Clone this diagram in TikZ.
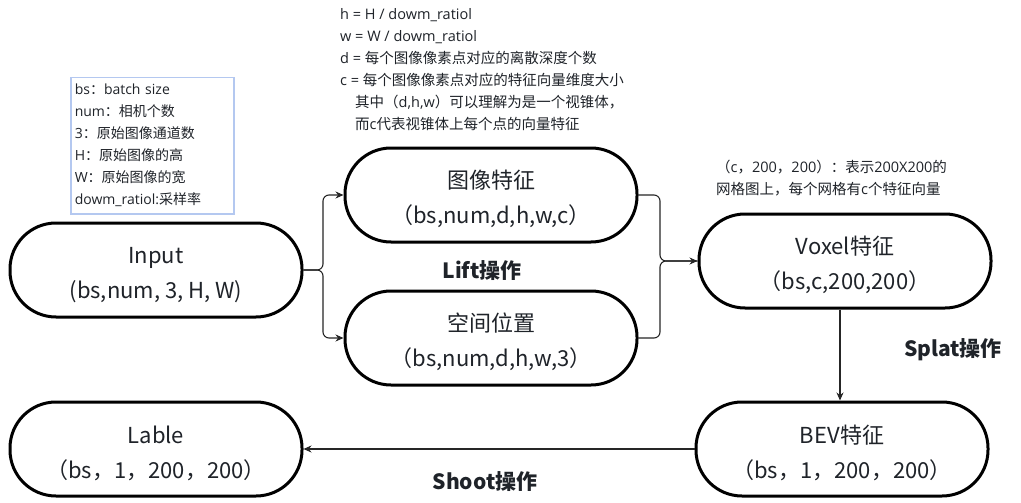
\documentclass[tikz,border=0pt]{standalone}
\usepackage{fontspec}
\setmainfont{Noto Sans CJK SC}
\newfontfamily\latf{Open Sans}
\newcommand{\lat}[1]{{\latf #1}}
\usetikzlibrary{arrows.meta}
\definecolor{txt}{HTML}{1F2329}
\definecolor{legendblue}{HTML}{B4C8F0}
\tikzset{
  stadium/.style={draw=black, line width=3pt, rounded corners=46pt, minimum width=292pt, minimum height=94pt, align=center, font=\fontsize{22}{35}\selectfont, text=txt, inner sep=0pt},
  conn/.style={draw=black!85, line width=1.1pt, -{Stealth[length=8pt,width=7pt]}},
  conn2/.style={draw=black!85, line width=1.1pt},
  note/.style={align=left, font=\fontsize{14.5}{22}\selectfont, text=txt, inner sep=0pt},
  oplabel/.style={font=\fontsize{21}{24}\selectfont\bfseries, text=txt, inner sep=0pt}
}
\newcommand{\tstrut}{\rule{0pt}{27pt}}
\begin{document}
\begin{tikzpicture}[x=1pt,y=-1pt]
\useasboundingbox (0,0) rectangle (1021,503);
\fill[white] (0,0) rectangle (1021,503);

\node[stadium] (input) at (156,270) {\tstrut Input\\(bs,num, 3, H, W)};
\node[stadium] (img) at (491,195) {\tstrut 图像特征\\（bs,num,d,h,w,c）};
\node[stadium] (sp) at (491,338) {\tstrut 空间位置\\（bs,num,d,h,w,3）};
\node[stadium] (vox) at (845,261) {\tstrut Voxel特征\\（bs,c,200,200）};
\node[stadium] (bev) at (842,449) {\tstrut BEV特征\\（bs，1，200，200）};
\node[stadium] (lab) at (156,449) {\tstrut Lable\\（bs，1，200，200）};

\node[draw=legendblue, line width=1.5pt, note, anchor=north west, text width=155pt, minimum height=136pt, inner sep=4pt, font=\fontsize{14}{22}\selectfont] (legend) at (70,77)
{\lat{bs}：\lat{batch size}\\\lat{num}：相机个数\\\lat{3}：原始图像通道数\\\lat{H}：原始图像的高\\\lat{W}：原始图像的宽\\\lat{dowm\_ratiol:}采样率};

\node[note, anchor=north west] (topnote) at (340,8)
{\lat{h = H / dowm\_ratiol}\\\lat{w = W / dowm\_ratiol}\\\lat{d = }每个图像像素点对应的离散深度个数\\\lat{c = }每个图像像素点对应的特征向量维度大小\\\hspace*{15pt}其中（\lat{d,h,w}）可以理解为是一个视锥体，\\\hspace*{15pt}而\lat{c}代表视锥体上每个点的向量特征};

\node[note, anchor=north west] (voxnote) at (716,160)
{（\lat{c}，\lat{200}，\lat{200}）：表示\lat{200X200}的\\网格图上，每个网格有\lat{c}个特征向量};

\node[oplabel] (lift) at (482,271) {Lift操作};
\node[oplabel] (splat) at (953,350) {Splat操作};
\node[oplabel] (shoot) at (485,482) {Shoot操作};

\coordinate (jl) at (323,270);
\coordinate (jr) at (660,261);

\draw[conn, rounded corners=6pt] (input.east) -- (jl) |- (img.west);
\draw[conn, rounded corners=6pt] (input.east) -- (jl) |- (sp.west);
\draw[conn, rounded corners=6pt] (img.east) -| (jr) -- (vox.west);
\draw[conn2, rounded corners=6pt] (sp.east) -| (jr) -- (vox.west);
\draw[conn] (vox.south -| 840,0) -- (bev.north -| 840,0);
\draw[conn] (bev.west) -- (lab.east);
\end{tikzpicture}
\end{document}
